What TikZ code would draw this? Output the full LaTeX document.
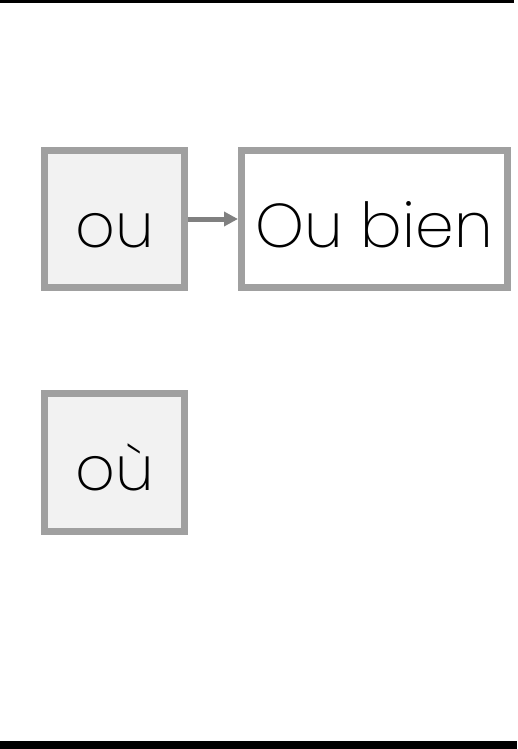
\documentclass[tikz,border=0pt]{standalone}
\usepackage{fontspec}
\IfFontExistsTF{Poppins ExtraLight}{\setmainfont{Poppins ExtraLight}}{%
  \IfFontExistsTF{Poppins Light}{\setmainfont{Poppins Light}}{\setmainfont{Poppins}}}
\definecolor{frame}{HTML}{A0A0A0}
\definecolor{boxfill}{HTML}{F2F2F2}
\definecolor{link}{HTML}{808080}
\usetikzlibrary{arrows.meta}
\usetikzlibrary{positioning}
\tikzset{
  word/.style={rectangle, draw=frame, line width=7pt, align=center, inner sep=0pt, minimum width=140pt, minimum height=137pt, text height=56pt, text depth=0pt, font=\fontsize{62}{68}\selectfont},
}

\begin{document}
\begin{tikzpicture}[x=1pt, y=-1pt]
      \useasboundingbox (0,0) rectangle (517,749);
      \fill[black] (0,0) rectangle (514,3);
      \fill[black] (0,741) rectangle (517,749);
      \node[word, fill=boxfill] (x1) at (114.5,219) {ou};
      \node[word, fill=white, minimum width=266pt] (x2) at (374.5,219) {Ou bien};
      \node[word, fill=boxfill, minimum height=138pt] (x3) at (114.5,462.5) {où};
      \draw[-{Triangle[length=14pt, width=14pt]}, line width=5pt, draw=link, fill=link] (x1.east) -- (x2.west);
    \end{tikzpicture}
\end{document}
